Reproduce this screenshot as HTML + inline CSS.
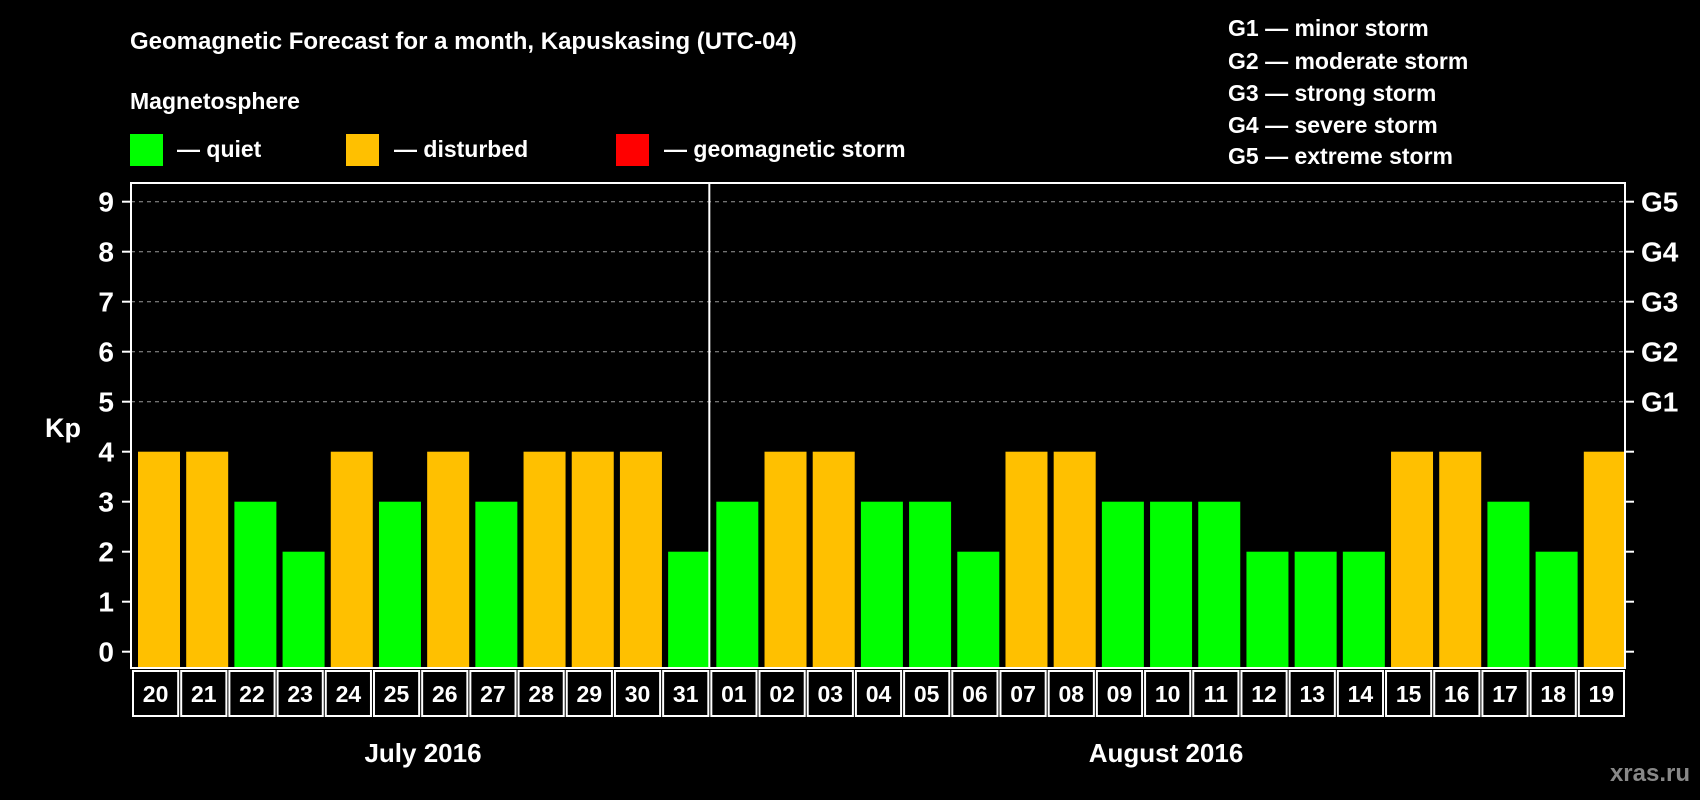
<!DOCTYPE html>
<html><head><meta charset="utf-8"><style>
html,body{margin:0;padding:0;background:#000;}
svg{display:block;font-family:"Liberation Sans",Arial,sans-serif;font-weight:bold;}
</style></head><body>
<svg id="chart" width="1700" height="800" viewBox="0 0 1700 800">
<rect width="1700" height="800" fill="#000"/>
<text x="130" y="49" fill="#fff" font-size="24">Geomagnetic Forecast for a month, Kapuskasing (UTC-04)</text>
<text x="130" y="109" fill="#fff" font-size="23">Magnetosphere</text>
<g><rect x="130" y="134" width="33" height="32" fill="#00ff00"/><text x="177" y="157" fill="#fff" font-size="23">— quiet</text></g>
<g><rect x="346" y="134" width="33" height="32" fill="#ffc000"/><text x="394" y="157" fill="#fff" font-size="23">— disturbed</text></g>
<g><rect x="616" y="134" width="33" height="32" fill="#ff0000"/><text x="664" y="157" fill="#fff" font-size="23">— geomagnetic storm</text></g>
<g fill="#fff" font-size="23">
<text x="1228" y="36">G1 — minor storm</text>
<text x="1228" y="69">G2 — moderate storm</text>
<text x="1228" y="101">G3 — strong storm</text>
<text x="1228" y="133">G4 — severe storm</text>
<text x="1228" y="164">G5 — extreme storm</text>
</g>
<text x="63" y="437" fill="#fff" font-size="27" text-anchor="middle">Kp</text>
<text x="423" y="762" fill="#fff" font-size="26" text-anchor="middle">July 2016</text>
<text x="1166" y="762" fill="#fff" font-size="26" text-anchor="middle">August 2016</text>
<text x="1690" y="781" fill="#888" font-size="24" text-anchor="end">xras.ru</text>
<g id="grid"></g><g id="bars"></g><g id="axes"></g><g id="xlabels"></g>
</svg>
<script>
const days = ["20","21","22","23","24","25","26","27","28","29","30","31","01","02","03","04","05","06","07","08","09","10","11","12","13","14","15","16","17","18","19"];
const kpValues = [4,4,3,2,4,3,4,3,4,4,4,2,3,4,4,3,3,2,4,4,3,3,3,2,2,2,4,4,3,2,4];
const yTicks = [0,1,2,3,4,5,6,7,8,9];
const stormLabels = ["G1","G2","G3","G4","G5"];
const stormLevels = [5,6,7,8,9];
const monthBreakIndex = 12;

const NS="http://www.w3.org/2000/svg";
const L=131,R=1625,T=183,B=668;
const slot=(R-L)/days.length;
function y(v){return 651.7-v*50;}
function xs(i){return L+i*slot;}
function mk(tag,attrs,parent){const e=document.createElementNS(NS,tag);for(const k in attrs)e.setAttribute(k,attrs[k]);document.getElementById(parent).appendChild(e);return e;}

yTicks.forEach(v=>{
  if(v>=5){const g=mk('line',{x1:L,x2:R,y1:y(v),y2:y(v),stroke:'#999','stroke-width':1,'stroke-dasharray':'4,4'},'grid');
  
  }
  const t=mk('line',{x1:L-9,x2:L,y1:y(v),y2:y(v),stroke:'#fff','stroke-width':2},'axes');
  
  
  const t2=mk('line',{x1:R,x2:R+9,y1:y(v),y2:y(v),stroke:'#fff','stroke-width':2},'axes');
  
  
  const lb=mk('text',{x:114,y:y(v)+10,fill:'#fff','font-size':28,'text-anchor':'end'},'axes');
  lb.textContent=v;
  
  
});
stormLabels.forEach((s,i)=>{
  const lb=mk('text',{x:1641,y:y(stormLevels[i])+10,fill:'#fff','font-size':28},'axes');
  lb.textContent=s;
  
  
});
kpValues.forEach((v,i)=>{
  const b=mk('rect',{x:xs(i)+7,y:y(v),width:42,height:B-1-y(v),fill:v>=5?'#ff0000':(v>=4?'#ffc000':'#00ff00')},'bars');
  
  
  const c=mk('rect',{x:xs(i)+2,y:B+3,width:slot-3,height:45,fill:'none',stroke:'#fff','stroke-width':2},'xlabels');
  
  
  const t=mk('text',{x:xs(i)+slot/2+0.5,y:B+34,fill:'#fff','font-size':23,'text-anchor':'middle'},'xlabels');
  t.textContent=days[i];
  
  
});
const f=mk('rect',{x:L,y:T,width:R-L,height:B-T,fill:'none',stroke:'#fff','stroke-width':2},'axes');


const d=mk('line',{x1:xs(monthBreakIndex),x2:xs(monthBreakIndex),y1:T,y2:B,stroke:'#fff','stroke-width':2},'axes');


</script>
</body></html>
